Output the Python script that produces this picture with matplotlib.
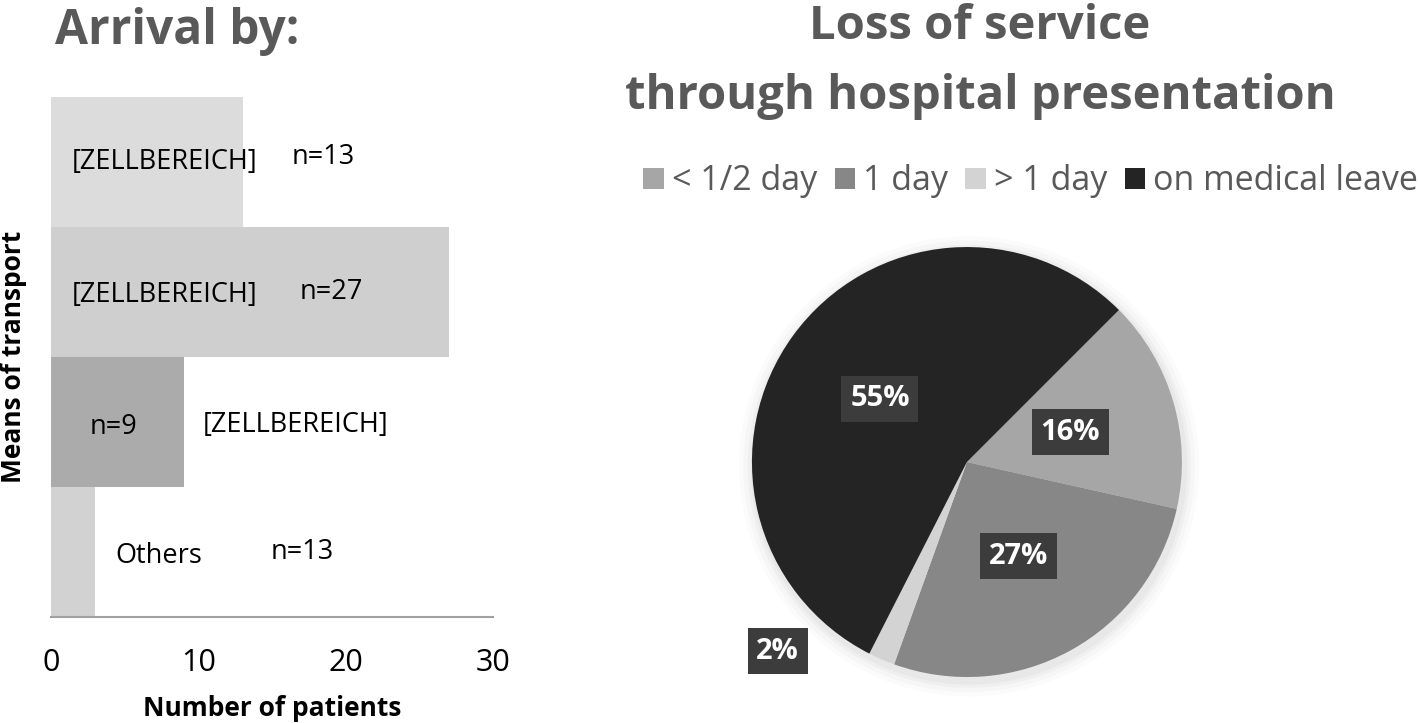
import matplotlib.pyplot as plt
from matplotlib.patches import Patch, Circle

plt.rcParams['font.family'] = ['Open Sans', 'DejaVu Sans']

# left chart: arrival by
bar_values = [13, 27, 9, 3]
bar_colors = ['#dcdcdc', '#cfcfcf', '#ababab', '#d2d2d2']
inner_labels = ['[ZELLBEREICH]', '[ZELLBEREICH]', 'n=9', 'Others']
outer_labels = ['n=13', 'n=27', '[ZELLBEREICH]', 'n=13']
xticks = [0, 10, 20, 30]

# right chart: loss of service
pie_names = ['< 1/2 day', '1 day', '> 1 day', 'on medical leave']
pie_values = [16, 27, 2, 55]
pie_colors = ['#a6a6a6', '#878787', '#d3d3d3', '#242424']

fig = plt.figure(figsize=(14.18, 7.23), dpi=100)

# ---- bar chart ----
ax = fig.add_axes([0.036, 0.1466, 0.3117, 0.7192])
ypos = list(range(len(bar_values)))
ax.barh(ypos, bar_values, height=1.0, color=bar_colors)
ax.set_ylim(3.5, -0.5)
ax.set_xlim(0, 30)
ax.set_xticks(xticks)
ax.set_yticks([])
ax.tick_params(axis='x', length=0, pad=22, labelsize=22)
for s in ['top', 'right', 'left']:
    ax.spines[s].set_visible(False)
ax.spines['bottom'].set_color('#a0a0a0')
ax.spines['bottom'].set_linewidth(1.5)

# label positions (x in data units) as placed in the original
inner_x = [1.4, 1.4, 2.6, 4.4]
outer_x = [16.3, 16.9, 10.3, 14.9]
inner_dy = [0.0, 0.02, 0.04, 0.03]
outer_dy = [-0.04, 0.0, 0.02, 0.0]
for i in ypos:
    ax.text(inner_x[i], i + inner_dy[i], inner_labels[i], va='center', ha='left', fontsize=19.5)
    ax.text(outer_x[i], i + outer_dy[i], outer_labels[i], va='center', ha='left', fontsize=19.5)

ax.set_xlabel('Number of patients', fontsize=19, fontweight='bold', va='center')
ax.xaxis.set_label_coords(0.5, -0.175)
ax.set_ylabel('Means of transport', fontsize=19, fontweight='bold', va='center')
ax.yaxis.set_label_coords(-0.085, 0.5)
fig.text(0.039, 0.956, 'Arrival by:', fontsize=34.5, fontweight='bold',
         color='#595959', va='center', ha='left')

# ---- pie chart ----
pax = fig.add_axes([0.4848, 0.0041, 0.3942, 0.7137])
for r, a in [(1.07, 0.03), (1.05, 0.04), (1.03, 0.05), (1.015, 0.06)]:
    pax.add_patch(Circle((0.01, -0.02), r, color='#808080', alpha=a, lw=0, zorder=0))
wedges, texts, autotexts = pax.pie(
    pie_values, colors=pie_colors, startangle=45, counterclock=False,
    autopct='%d%%', pctdistance=0.5,
    wedgeprops=dict(linewidth=0),
    textprops=dict(color='white', fontsize=21, fontweight='bold'))
for t in autotexts:
    t.set_bbox(dict(boxstyle='square,pad=0.3', facecolor='#3c3c3c', edgecolor='none'))
# the 2% label was moved outside the pie
autotexts[2].set_position((-0.88, -0.88))
pax.set_xlim(-1.3, 1.3)
pax.set_ylim(-1.2, 1.2)
pax.axis('off')

fig.text(0.691, 0.963, 'Loss of service', fontsize=34, fontweight='bold',
         color='#595959', ha='center', va='center')
fig.text(0.691, 0.866, 'through hospital presentation', fontsize=34, fontweight='bold',
         color='#595959', ha='center', va='center')

handles = [Patch(facecolor=c, edgecolor='none') for c in pie_colors]
leg = fig.legend(handles, pie_names, loc='center', bbox_to_anchor=(0.727, 0.749),
                 ncol=4, frameon=False, fontsize=24.5, handlelength=0.6, handleheight=0.6,
                 handletextpad=0.25, columnspacing=0.5)
for t in leg.get_texts():
    t.set_color('#595959')

fig.savefig('out.png', dpi=100)
